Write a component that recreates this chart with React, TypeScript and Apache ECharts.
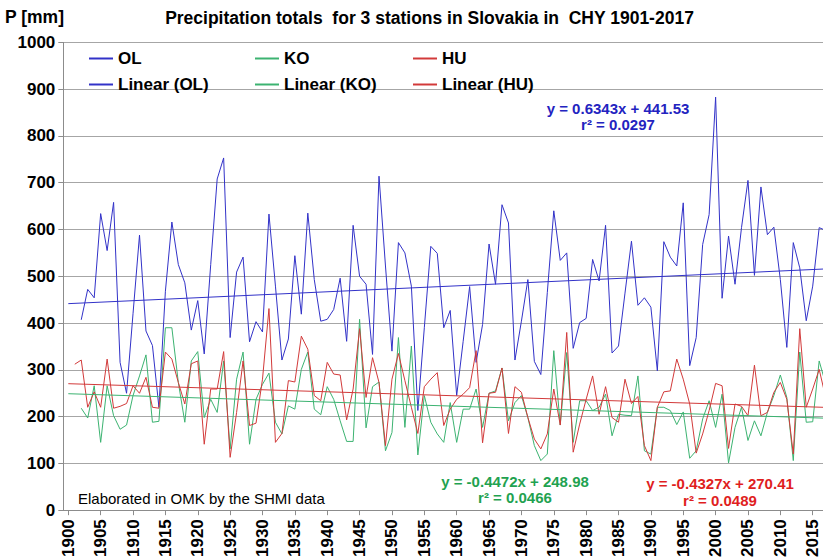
import React, { useEffect, useRef } from "react";
import * as echarts from "echarts";

const years = Array.from({ length: 117 }, (_, i) => 1901 + i);

const olValues = [
  null, 407, 472, 454, 634, 555, 658, 316, 250, 420,
  588, 383, 352, 220, 468, 616, 525, 486, 385, 448,
  334, 525, 708, 753, 369, 509, 541, 360, 403, 381,
  633, 479, 321, 366, 544, 419, 635, 493, 404, 408,
  429, 496, 361, 609, 500, 483, 333, 714, 522, 340,
  572, 550, 479, 213, 390, 564, 549, 390, 427, 245,
  361, 478, 316, 397, 569, 483, 653, 614, 321, 404,
  493, 318, 290, 465, 640, 534, 550, 346, 401, 410,
  536, 490, 609, 336, 351, 464, 575, 438, 454, 434,
  298, 574, 541, 522, 657, 309, 369, 568, 632, 883,
  453, 586, 483, 604, 705, 502, 691, 589, 605, 493,
  348, 572, 518, 405, 479, 604, 598,
];

const koValues = [
  null, 218, 197, 266, 145, 266, 202, 173, 182, 245,
  287, 332, 188, 190, 390, 390, 273, 188, 319, 339,
  198, 237, 209, 319, 131, 280, 338, 141, 237, 269,
  293, 188, 163, 223, 216, 301, 338, 216, 204, 264,
  237, 191, 147, 147, 408, 176, 264, 274, 127, 166,
  369, 177, 351, 118, 245, 188, 163, 145, 230, 145,
  216, 216, 259, 177, 250, 255, 304, 191, 230, 245,
  198, 138, 106, 120, 341, 182, 337, 145, 234, 234,
  213, 220, 248, 159, 205, 203, 202, 287, 127, 120,
  220, 220, 213, 183, 210, 111, 127, 195, 234, 177,
  248, 101, 177, 220, 149, 191, 159, 209, 245, 289,
  241, 106, 338, 188, 189, 319, 270,
];

const huValues = [
  312, 321, 220, 253, 220, 323, 218, 222, 228, 266,
  250, 284, 220, 218, 338, 323, 273, 227, 313, 319,
  141, 259, 259, 339, 113, 209, 319, 181, 186, 280,
  431, 145, 164, 277, 274, 372, 344, 245, 234, 316,
  291, 289, 193, 259, 388, 241, 326, 273, 138, 280,
  335, 277, 220, 164, 264, 280, 294, 181, 216, 237,
  248, 262, 341, 144, 250, 252, 304, 164, 264, 252,
  198, 152, 131, 163, 259, 182, 380, 124, 184, 237,
  287, 205, 264, 198, 188, 280, 228, 243, 138, 106,
  220, 253, 255, 323, 280, 227, 122, 163, 213, 271,
  266, 132, 227, 222, 202, 310, 202, 209, 252, 273,
  237, 120, 388, 220, 259, 301, 241,
];

const xTickLabels = [
  1900, 1905, 1910, 1915, 1920, 1925, 1930, 1935, 1940, 1945, 1950, 1955,
  1960, 1965, 1970, 1975, 1980, 1985, 1990, 1995, 2000, 2005, 2010, 2015,
];

const seriesNames = ["OL", "KO", "HU"];
const trendNames = ["Linear (OL)", "Linear (KO)", "Linear (HU)"];
const trendSlopes = [0.6343, -0.4472, -0.4327];
const trendIntercepts = [441.53, 248.98, 270.41];
const trendR2 = ["0.0297", "0.0466", "0.0489"];

const FONT = "'Liberation Sans', Arial, Helvetica, sans-serif";
const lineColors = ["#3232c8", "#3cb371", "#d23a3a"];
const eqColors = ["#2323c0", "#1fa250", "#e01e1e"];

export default function App() {
  const ref = useRef<HTMLDivElement>(null);

  useEffect(() => {
    if (!ref.current) return;
    const chart = echarts.init(ref.current, null, { renderer: "svg" });

    const valueSets = [olValues, koValues, huValues];
    const dataSeries = valueSets.map((vals, s) => ({
      name: seriesNames[s],
      type: "line",
      symbol: "none",
      connectNulls: false,
      clip: true,
      lineStyle: { color: lineColors[s], width: 1 },
      itemStyle: { color: lineColors[s] },
      data: years.map((y, i) => [y, vals[i]]),
      z: 3,
    }));

    const trendSeries = trendNames.map((name, s) => ({
      name,
      type: "line",
      symbol: "none",
      clip: true,
      lineStyle: { color: lineColors[s], width: 1 },
      itemStyle: { color: lineColors[s] },
      data: [
        [1900, trendIntercepts[s]],
        [2017, trendIntercepts[s] + trendSlopes[s] * 117],
      ],
      z: 4,
    }));

    const legendLefts = [88, 254, 412];
    const legends = seriesNames.map((n, s) => ({
      orient: "vertical",
      left: legendLefts[s],
      top: 50,
      padding: 0,
      itemWidth: 24,
      itemHeight: 14,
      itemGap: 9,
      itemStyle: { opacity: 0 },
      data: [n, trendNames[s]],
      textStyle: { fontSize: 17, fontWeight: "bold", color: "#000", fontFamily: FONT },
      selectedMode: false,
    }));

    const fmtEq = (s: number) => {
      const sl = trendSlopes[s];
      return `y = ${sl < 0 ? "-" : ""}${Math.abs(sl).toFixed(4)}x + ${trendIntercepts[s].toFixed(2)}`;
    };
    const eqPos = [
      [618, 108, 124],
      [515, 481, 497.5],
      [720, 483.5, 500],
    ];

    const graphics: any[] = [
      {
        type: "text",
        x: 5,
        y: 17,
        z: 100,
        style: { text: "P [mm]", fill: "#000", font: `bold 17.5px ${FONT}`, textAlign: "left", textVerticalAlign: "middle" },
      },
      {
        type: "text",
        x: 429.5,
        y: 18,
        z: 100,
        style: {
          text: "Precipitation totals  for 3 stations in Slovakia in  CHY 1901-2017",
          fill: "#000",
          font: `bold 17.5px ${FONT}`,
          textAlign: "center",
          textVerticalAlign: "middle",
        },
      },
      {
        type: "text",
        x: 78,
        y: 498,
        z: 100,
        style: { text: "Elaborated in OMK by the SHMI data", fill: "#000", font: `15px ${FONT}`, textAlign: "left", textVerticalAlign: "middle" },
      },
    ];
    eqPos.forEach((p, s) => {
      graphics.push({
        type: "text",
        x: p[0],
        y: p[1],
        z: 100,
        style: { text: fmtEq(s), fill: eqColors[s], font: `bold 15px ${FONT}`, textAlign: "center", textVerticalAlign: "middle" },
      });
      graphics.push({
        type: "text",
        x: p[0],
        y: p[2],
        z: 100,
        style: { text: `r\u00b2 = ${trendR2[s]}`, fill: eqColors[s], font: `bold 15px ${FONT}`, textAlign: "center", textVerticalAlign: "middle" },
      });
    });

    chart.setOption({
      animation: false,
      backgroundColor: "#ffffff",
      textStyle: { fontFamily: FONT },
      grid: { left: 63.3, right: 0, top: 42.4, bottom: 48.6, containLabel: false },
      xAxis: {
        type: "value",
        min: 1899.228,
        max: 2016.59,
        axisLine: { show: true, onZero: false, lineStyle: { color: "#8c8c8c", width: 1 } },
        axisTick: { show: true, customValues: xTickLabels, length: 5, lineStyle: { color: "#8c8c8c" } },
        axisLabel: {
          customValues: xTickLabels,
          rotate: 90,
          fontSize: 17,
          fontWeight: "bold",
          color: "#000",
          margin: 9,
          fontFamily: FONT,
          formatter: (v: number) => String(v),
        },
        splitLine: { show: false },
      },
      yAxis: {
        type: "value",
        min: 0,
        max: 1000,
        interval: 100,
        axisLine: { show: true, lineStyle: { color: "#8c8c8c", width: 1 } },
        axisTick: { show: true, length: 5, lineStyle: { color: "#8c8c8c" } },
        axisLabel: {
          fontSize: 17,
          fontWeight: "bold",
          color: "#000",
          margin: 8,
          fontFamily: FONT,
          formatter: (v: number) => String(v),
        },
        splitLine: { show: true, lineStyle: { color: "#a6a6a6", width: 1 } },
      },
      legend: legends,
      series: [...dataSeries, ...trendSeries],
      graphic: graphics,
    });

    return () => chart.dispose();
  }, []);

  return (
    <div
      ref={ref}
      style={{ position: "absolute", left: 0, top: 0, width: 823, height: 560, background: "#fff" }}
    />
  );
}
